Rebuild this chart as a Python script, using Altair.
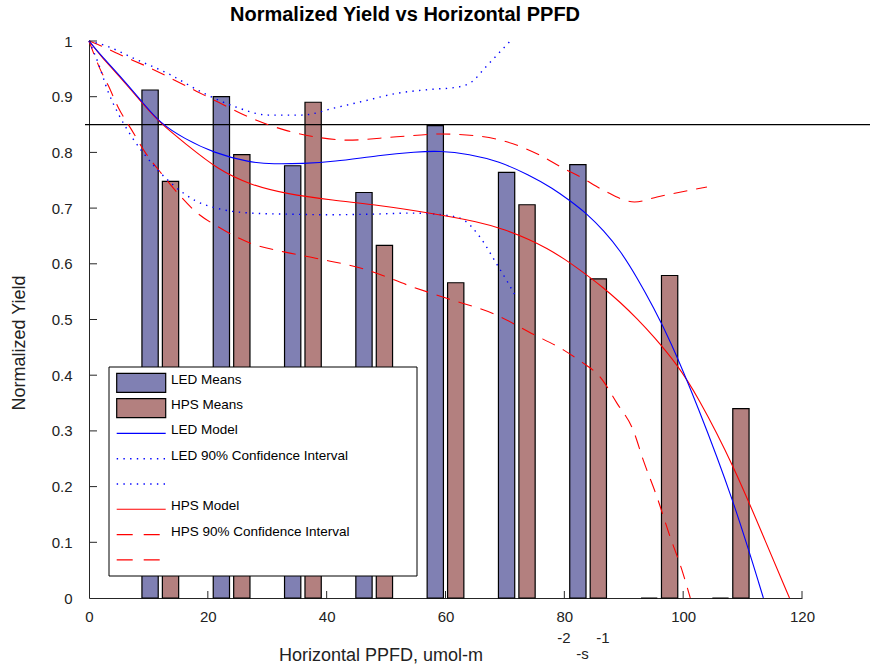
import altair as alt
import pandas as pd

FONT = "Liberation Sans"

# Bar groups (treatment level, PPFD) and mean normalized yields
pair_centers = [12, 24, 36, 48, 60, 72, 84, 96, 108]
led_means = [0.912, 0.900, 0.776, 0.728, 0.848, 0.764, 0.778, 0.0, 0.0]
hps_means = [0.748, 0.796, 0.890, 0.633, 0.566, 0.706, 0.573, 0.579, 0.340]
bar_offset = 1.72
bar_half = 1.37

threshold = 0.85

# Fitted models and 90% confidence bands
led_model_x = [0, 2, 5, 9, 12, 16, 21, 27, 31, 36, 41, 49, 55, 59, 64, 69, 74, 78, 81, 84, 86.6, 89.4, 92.2, 95, 97.8, 102.3, 108.5, 113.5]
led_model_y = [1, 0.974, 0.940, 0.890, 0.852, 0.825, 0.799, 0.782, 0.779, 0.780, 0.783, 0.795, 0.801, 0.803, 0.797, 0.784, 0.760, 0.736, 0.713, 0.688, 0.660, 0.624, 0.576, 0.522, 0.463, 0.349, 0.175, 0.0]

hps_model_x = [0, 2, 5, 9, 12, 16.2, 21.8, 27.4, 33, 41, 49, 57.4, 65.8, 69.8, 74.3, 77, 80, 83, 86.6, 89.4, 92.2, 95, 99, 102.3, 108.5, 114.1, 117.9]
hps_model_y = [1, 0.973, 0.938, 0.888, 0.852, 0.816, 0.768, 0.741, 0.726, 0.714, 0.705, 0.691, 0.675, 0.662, 0.643, 0.628, 0.609, 0.586, 0.557, 0.531, 0.502, 0.470, 0.419, 0.365, 0.238, 0.095, 0.0]

led_ci_hi_x = [0, 2.7, 7.7, 13.4, 19, 24.6, 30.2, 35.8, 41.4, 46.2, 51.8, 57.4, 61.9, 64.7, 66.4, 68.6, 70.9]
led_ci_hi_y = [1, 0.992, 0.968, 0.941, 0.908, 0.882, 0.867, 0.867, 0.880, 0.892, 0.906, 0.913, 0.917, 0.929, 0.949, 0.974, 1.0]

led_ci_lo_x = [0, 1.6, 3.25, 4.9, 7.2, 10.6, 13.9, 17.8, 21.8, 27.4, 34, 41, 47, 54.6, 60.2, 63, 65.8, 68.6, 70.3, 71.8]
led_ci_lo_y = [1, 0.959, 0.908, 0.870, 0.828, 0.780, 0.744, 0.714, 0.699, 0.691, 0.689, 0.688, 0.689, 0.691, 0.687, 0.679, 0.648, 0.600, 0.570, 0.542]

hps_ci_hi_x = [0, 1.85, 4.9, 10.6, 16.2, 21.8, 27.4, 33, 38.6, 43.5, 51.8, 59.1, 65.8, 70.3, 75.9, 79.9, 82.7, 86.6, 91.8, 95.6, 104]
hps_ci_hi_y = [1, 0.992, 0.977, 0.950, 0.920, 0.890, 0.861, 0.840, 0.827, 0.822, 0.828, 0.833, 0.829, 0.819, 0.795, 0.771, 0.756, 0.732, 0.711, 0.720, 0.738]

hps_ci_lo_x = [0, 1.85, 3.25, 4.9, 7.2, 9.4, 12.2, 15, 17.8, 21.8, 27.4, 33, 38.6, 46.2, 54.6, 60.2, 68.6, 74.5, 79.9, 83, 86, 88.9, 91.6, 93.3, 95.6, 97.8, 99.8, 101.2]
hps_ci_lo_y = [1, 0.950, 0.920, 0.881, 0.840, 0.801, 0.762, 0.726, 0.695, 0.666, 0.636, 0.621, 0.609, 0.591, 0.558, 0.538, 0.508, 0.475, 0.445, 0.423, 0.397, 0.349, 0.301, 0.247, 0.181, 0.110, 0.050, 0.0]

x_ticks = [0, 20, 40, 60, 80, 100, 120]
y_ticks = [0, 0.1, 0.2, 0.3, 0.4, 0.5, 0.6, 0.7, 0.8, 0.9, 1.0]

LED_FILL = "#8080B3"
HPS_FILL = "#B3807F"
AXIS_COLOR = "#262626"

W, H = 713, 557

bars = pd.DataFrame(
    [{"x0": c - bar_offset - bar_half, "x1": c - bar_offset + bar_half, "v": v, "s": "LED"}
     for c, v in zip(pair_centers, led_means)]
    + [{"x0": c + bar_offset - bar_half, "x1": c + bar_offset + bar_half, "v": v, "s": "HPS"}
       for c, v in zip(pair_centers, hps_means)]
)


def curve(xs, ys, name):
    return pd.DataFrame({"x": xs, "y": ys, "c": name})


xs = alt.Scale(domain=[0, 120], nice=False, zero=False)
ys = alt.Scale(domain=[0, 1], nice=False, zero=False)
x_axis = alt.Axis(values=x_ticks, title=None, ticks=False, tickSize=0, grid=False,
                  labelFontSize=15, labelFont=FONT, labelColor="#222", labelPadding=11,
                  domainColor=AXIS_COLOR, labelFlush=False, labelOverlap=False)
y_axis = alt.Axis(values=y_ticks, title=None, ticks=False, tickSize=0, grid=False,
                  labelFontSize=15, labelFont=FONT, labelColor="#222", labelPadding=17,
                  domainColor=AXIS_COLOR, format=".1~f", labelFlush=False, labelOverlap=False)


def X(field):
    return alt.X(field, type="quantitative", scale=xs, axis=x_axis)


def Y(field):
    return alt.Y(field, type="quantitative", scale=ys, axis=y_axis)


bar_layer = alt.Chart(bars).mark_rect(stroke="black", strokeWidth=1.2).encode(
    x=X("x0"), x2="x1", y=Y("v"), y2=alt.datum(0),
    fill=alt.Color("s:N", scale=alt.Scale(domain=["LED", "HPS"], range=[LED_FILL, HPS_FILL]), legend=None),
)

hline = alt.Chart(pd.DataFrame({"y": [threshold]})).mark_rule(color="black", strokeWidth=1.3).encode(
    y=Y("y"), x=alt.value(-4), x2=alt.value(870 - 89)
)


def line_layer(df, color, dash=None, width=1.1, interp="monotone"):
    kw = dict(color=color, strokeWidth=width, interpolate=interp, strokeCap="butt")
    if dash:
        kw["strokeDash"] = dash
    return alt.Chart(df).mark_line(**kw).encode(x=X("x"), y=Y("y"))


DASH = [14, 9]
DOT = [1.4, 5.3]

curves = [
    line_layer(curve(hps_ci_hi_x, hps_ci_hi_y, "hps_hi"), "#FF0000", DASH),
    line_layer(curve(hps_ci_lo_x, hps_ci_lo_y, "hps_lo"), "#FF0000", DASH),
    line_layer(curve(led_ci_hi_x, led_ci_hi_y, "led_hi"), "#0000FF", DOT, 1.4),
    line_layer(curve(led_ci_lo_x, led_ci_lo_y, "led_lo"), "#0000FF", DOT, 1.4),
    line_layer(curve(hps_model_x, hps_model_y, "hps"), "#FF0000", interp="basis"),
    line_layer(curve(led_model_x, led_model_y, "led"), "#0000FF", interp="basis"),
]

# Inward tick marks on both axes
ytick_layer = alt.Chart(pd.DataFrame({"y": y_ticks[1:]})).mark_rule(color=AXIS_COLOR).encode(
    y=Y("y"), x=alt.value(0), x2=alt.value(8)
)
xtick_layer = alt.Chart(pd.DataFrame({"x": x_ticks[1:]})).mark_rule(color=AXIS_COLOR).encode(
    x=X("x"), y=alt.value(H), y2=alt.value(H - 7)
)

one = pd.DataFrame({"k": [0]})


def text(s, x, y, size, color="#222", **kw):
    return alt.Chart(one).mark_text(text=s, font=FONT, fontSize=size, color=color, **kw).encode(
        x=alt.value(x), y=alt.value(y)
    )


labels = [
    text("Normalized Yield vs Horizontal PPFD", 316, -26, 20, color="black", fontWeight="bold"),
    text("Horizontal PPFD, umol-m", 292, 615, 18),
    text("-2", 475, 597, 15),
    text("-s", 493.5, 612.5, 15),
    text("-1", 514, 597, 15),
    text("Normalized Yield", -69, 302, 18, angle=270),
]

# Legend box
LX0, LX1, LY0, LY1 = 20, 328, 326, 535
legend = [
    alt.Chart(one).mark_rect(fill="white", stroke="black", strokeWidth=1).encode(
        x=alt.value(LX0), x2=alt.value(LX1), y=alt.value(LY0), y2=alt.value(LY1)
    )
]
legend_rows = [
    ("LED Means", "rect", LED_FILL, None),
    ("HPS Means", "rect", HPS_FILL, None),
    ("LED Model", "line", "#0000FF", None),
    ("LED 90% Confidence Interval", "line", "#0000FF", DOT),
    ("", "line", "#0000FF", DOT),
    ("HPS Model", "line", "#FF0000", None),
    ("HPS 90% Confidence Interval", "line", "#FF0000", [16, 11]),
    ("", "line", "#FF0000", [16, 11]),
]
SX0, SX1 = 27.7, 76.7
for i, (lab, kind, col, dash) in enumerate(legend_rows):
    cy = 341.8 + 25.3 * i
    if kind == "rect":
        legend.append(
            alt.Chart(one).mark_rect(fill=col, stroke="black", strokeWidth=1.2).encode(
                x=alt.value(SX0), x2=alt.value(SX1), y=alt.value(cy - 9.5), y2=alt.value(cy + 9.5)
            )
        )
    else:
        kw = dict(color=col, strokeWidth=1.4 if dash == DOT else 1.1, strokeCap="butt")
        if dash:
            kw["strokeDash"] = dash
        legend.append(
            alt.Chart(one).mark_rule(**kw).encode(
                x=alt.value(SX0), x2=alt.value(SX1), y=alt.value(cy), y2=alt.value(cy)
            )
        )
    if lab:
        legend.append(text(lab, 82, cy - 3, 13.5, color="black", align="left", baseline="middle"))

chart = alt.layer(
    bar_layer, hline, *curves, ytick_layer, xtick_layer, *legend, *labels
).properties(
    width=W, height=H,
    padding={"left": 89, "top": 41, "right": 870 - 89 - W, "bottom": 666 - 41 - H},
    autosize=alt.AutoSizeParams(type="none"),
    background="white",
).configure_view(stroke=None)

chart.save("out.html", embed_options={"renderer": "svg", "actions": False})
